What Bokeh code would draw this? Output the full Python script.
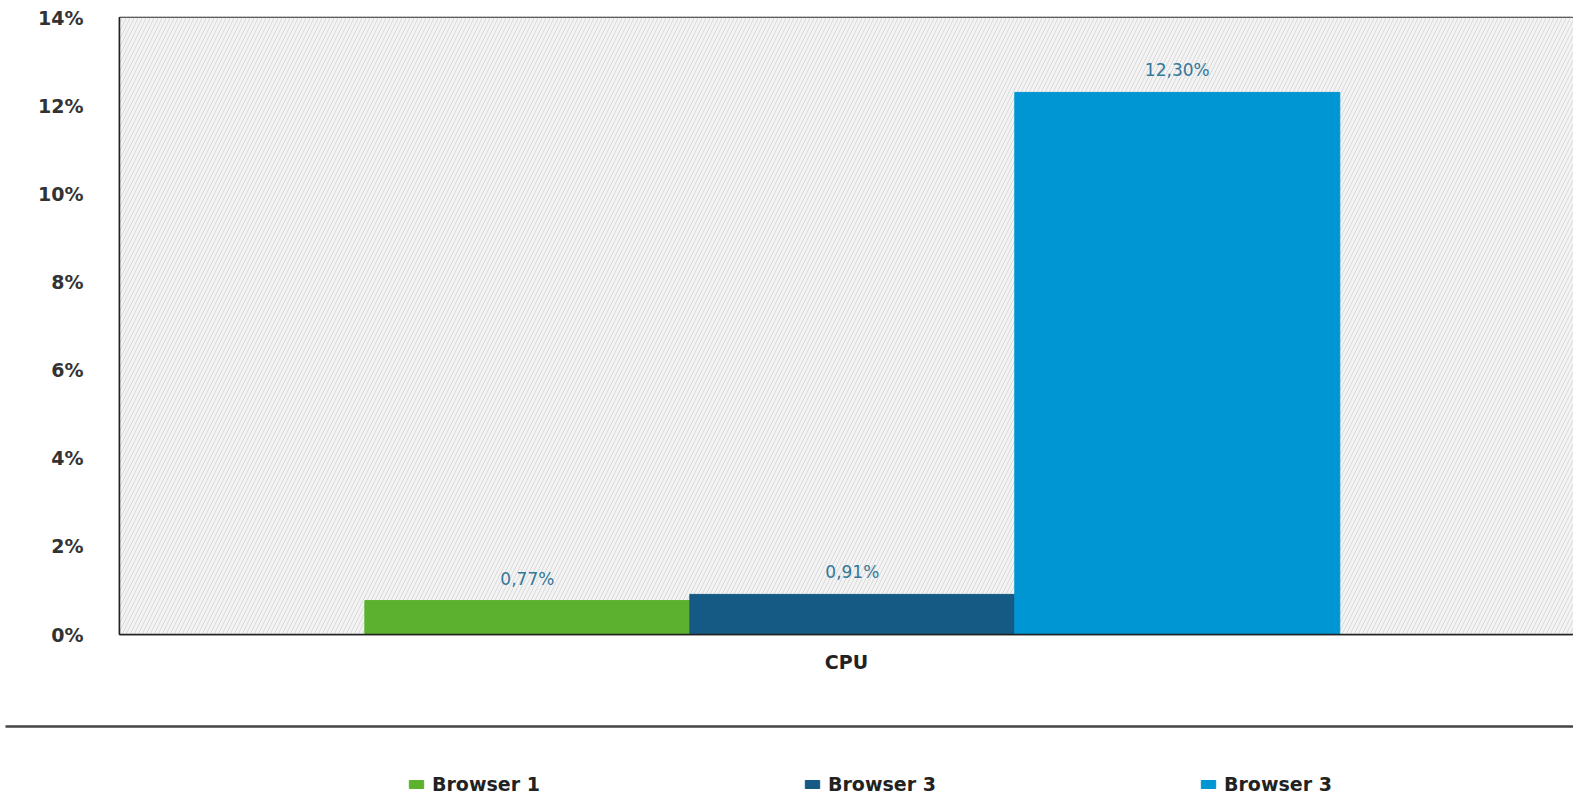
from bokeh.plotting import figure
from bokeh.models import (ColumnDataSource, FactorRange, LabelSet, Legend, LegendItem,
                          BoxAnnotation, PrintfTickFormatter, FixedTicker, CategoricalAxis)
from bokeh.layouts import column, row
from bokeh.core.properties import value
from bokeh.transform import dodge
from bokeh.embed import file_html
from bokeh.resources import INLINE

# ---- data ----
categories = ["CPU"]
series_names = ["Browser 1", "Browser 3", "Browser 3"]
series_values = [0.77, 0.91, 12.30]
series_labels = ["0,77%", "0,91%", "12,30%"]
series_colors = ["#5cb22e", "#155a84", "#0096d3"]
y_ticks = [0, 2, 4, 6, 8, 10, 12, 14]

FONT = "DejaVu Sans"
bar_w = 0.2235
shift = 0.004
offsets = [-bar_w + shift, shift, bar_w + shift]

x_range = FactorRange(*categories)

# ---------------- main chart ----------------
p = figure(width=1573, height=720, x_range=x_range, y_range=(0, 14),
           output_backend="svg", toolbar_location=None,
           min_border_left=119, min_border_right=0, min_border_top=17, min_border_bottom=86)

p.background_fill_color = "white"
p.border_fill_color = "white"
p.outline_line_color = "#222222"
p.outline_line_width = 1.5

# hatched plot background
p.add_layout(BoxAnnotation(fill_color="#f3f3f3", fill_alpha=1,
                           hatch_pattern="right_diagonal_line", hatch_color="#dadada",
                           hatch_scale=8, hatch_weight=1, line_alpha=0, level="underlay"))

for name, val, lab, col, off in zip(series_names, series_values, series_labels, series_colors, offsets):
    src = ColumnDataSource(dict(x=categories, top=[val], label=[lab]))
    p.vbar(x=dodge("x", off, range=x_range), top="top", width=bar_w, source=src,
           fill_color=col, line_color=col)
    p.add_layout(LabelSet(x=dodge("x", off, range=x_range), y="top", text="label", source=src,
                          text_align="center", text_baseline="bottom", y_offset=12,
                          text_font=value(FONT), text_font_size="17px", text_color="#34789a"))

# grid
p.xgrid.grid_line_color = None
p.ygrid.grid_line_color = "#3a3a3a"
p.ygrid.grid_line_width = 1
p.ygrid.ticker = FixedTicker(ticks=y_ticks)

# y axis
p.yaxis.ticker = FixedTicker(ticks=y_ticks)
p.yaxis.formatter = PrintfTickFormatter(format="%d%%")
p.yaxis.axis_line_color = "#222222"
p.yaxis.axis_line_width = 1.5
p.yaxis.major_tick_line_color = None
p.yaxis.minor_tick_line_color = None
p.yaxis.major_label_standoff = 30
p.yaxis.major_label_text_font = FONT
p.yaxis.major_label_text_font_style = "bold"
p.yaxis.major_label_text_font_size = "19px"
p.yaxis.major_label_text_color = "#333333"

# x axis
p.xaxis.axis_line_color = "#222222"
p.xaxis.axis_line_width = 1.5
p.xaxis.major_tick_line_color = None
p.xaxis.minor_tick_line_color = None
p.xaxis.major_label_standoff = 10
p.xaxis.major_label_text_font = FONT
p.xaxis.major_label_text_font_style = "bold"
p.xaxis.major_label_text_font_size = "19px"
p.xaxis.major_label_text_color = "#222222"

# ---------------- legend strip ----------------
p2 = figure(width=1573, height=75, x_range=x_range, y_range=(100, 101),
            output_backend="svg", toolbar_location=None,
            min_border_left=5, min_border_right=0, min_border_top=0, min_border_bottom=0,
            x_axis_location=None, y_axis_location=None)
p2.outline_line_color = None
p2.grid.grid_line_color = None
p2.background_fill_color = "white"

renderers = []
for name, val, col, off in zip(series_names, series_values, series_colors, offsets):
    src = ColumnDataSource(dict(x=categories, top=[val]))
    r = p2.vbar(x=dodge("x", off, range=x_range), top="top", width=bar_w, source=src,
                fill_color=col, line_color=col)
    renderers.append(r)

sep = CategoricalAxis(axis_line_color="#444444", axis_line_width=2.5,
                      major_tick_line_color=None, minor_tick_line_color=None,
                      major_label_text_alpha=0, major_label_text_font_size="1px",
                      major_label_standoff=0)
p2.add_layout(sep, "above")

legend = Legend(items=[LegendItem(label=n, renderers=[r]) for n, r in zip(series_names, renderers)],
                orientation="horizontal", location=(402, 0),
                glyph_width=18, glyph_height=10, label_standoff=7, label_width=371, spacing=0,
                padding=0, margin=0, border_line_alpha=0, background_fill_alpha=0,
                label_text_font=FONT, label_text_font_style="bold", label_text_font_size="19px",
                label_text_color="#222222")
p2.add_layout(legend, "center")

open("out.html", "w").write(file_html(column(p, row(p2), spacing=0), INLINE))
